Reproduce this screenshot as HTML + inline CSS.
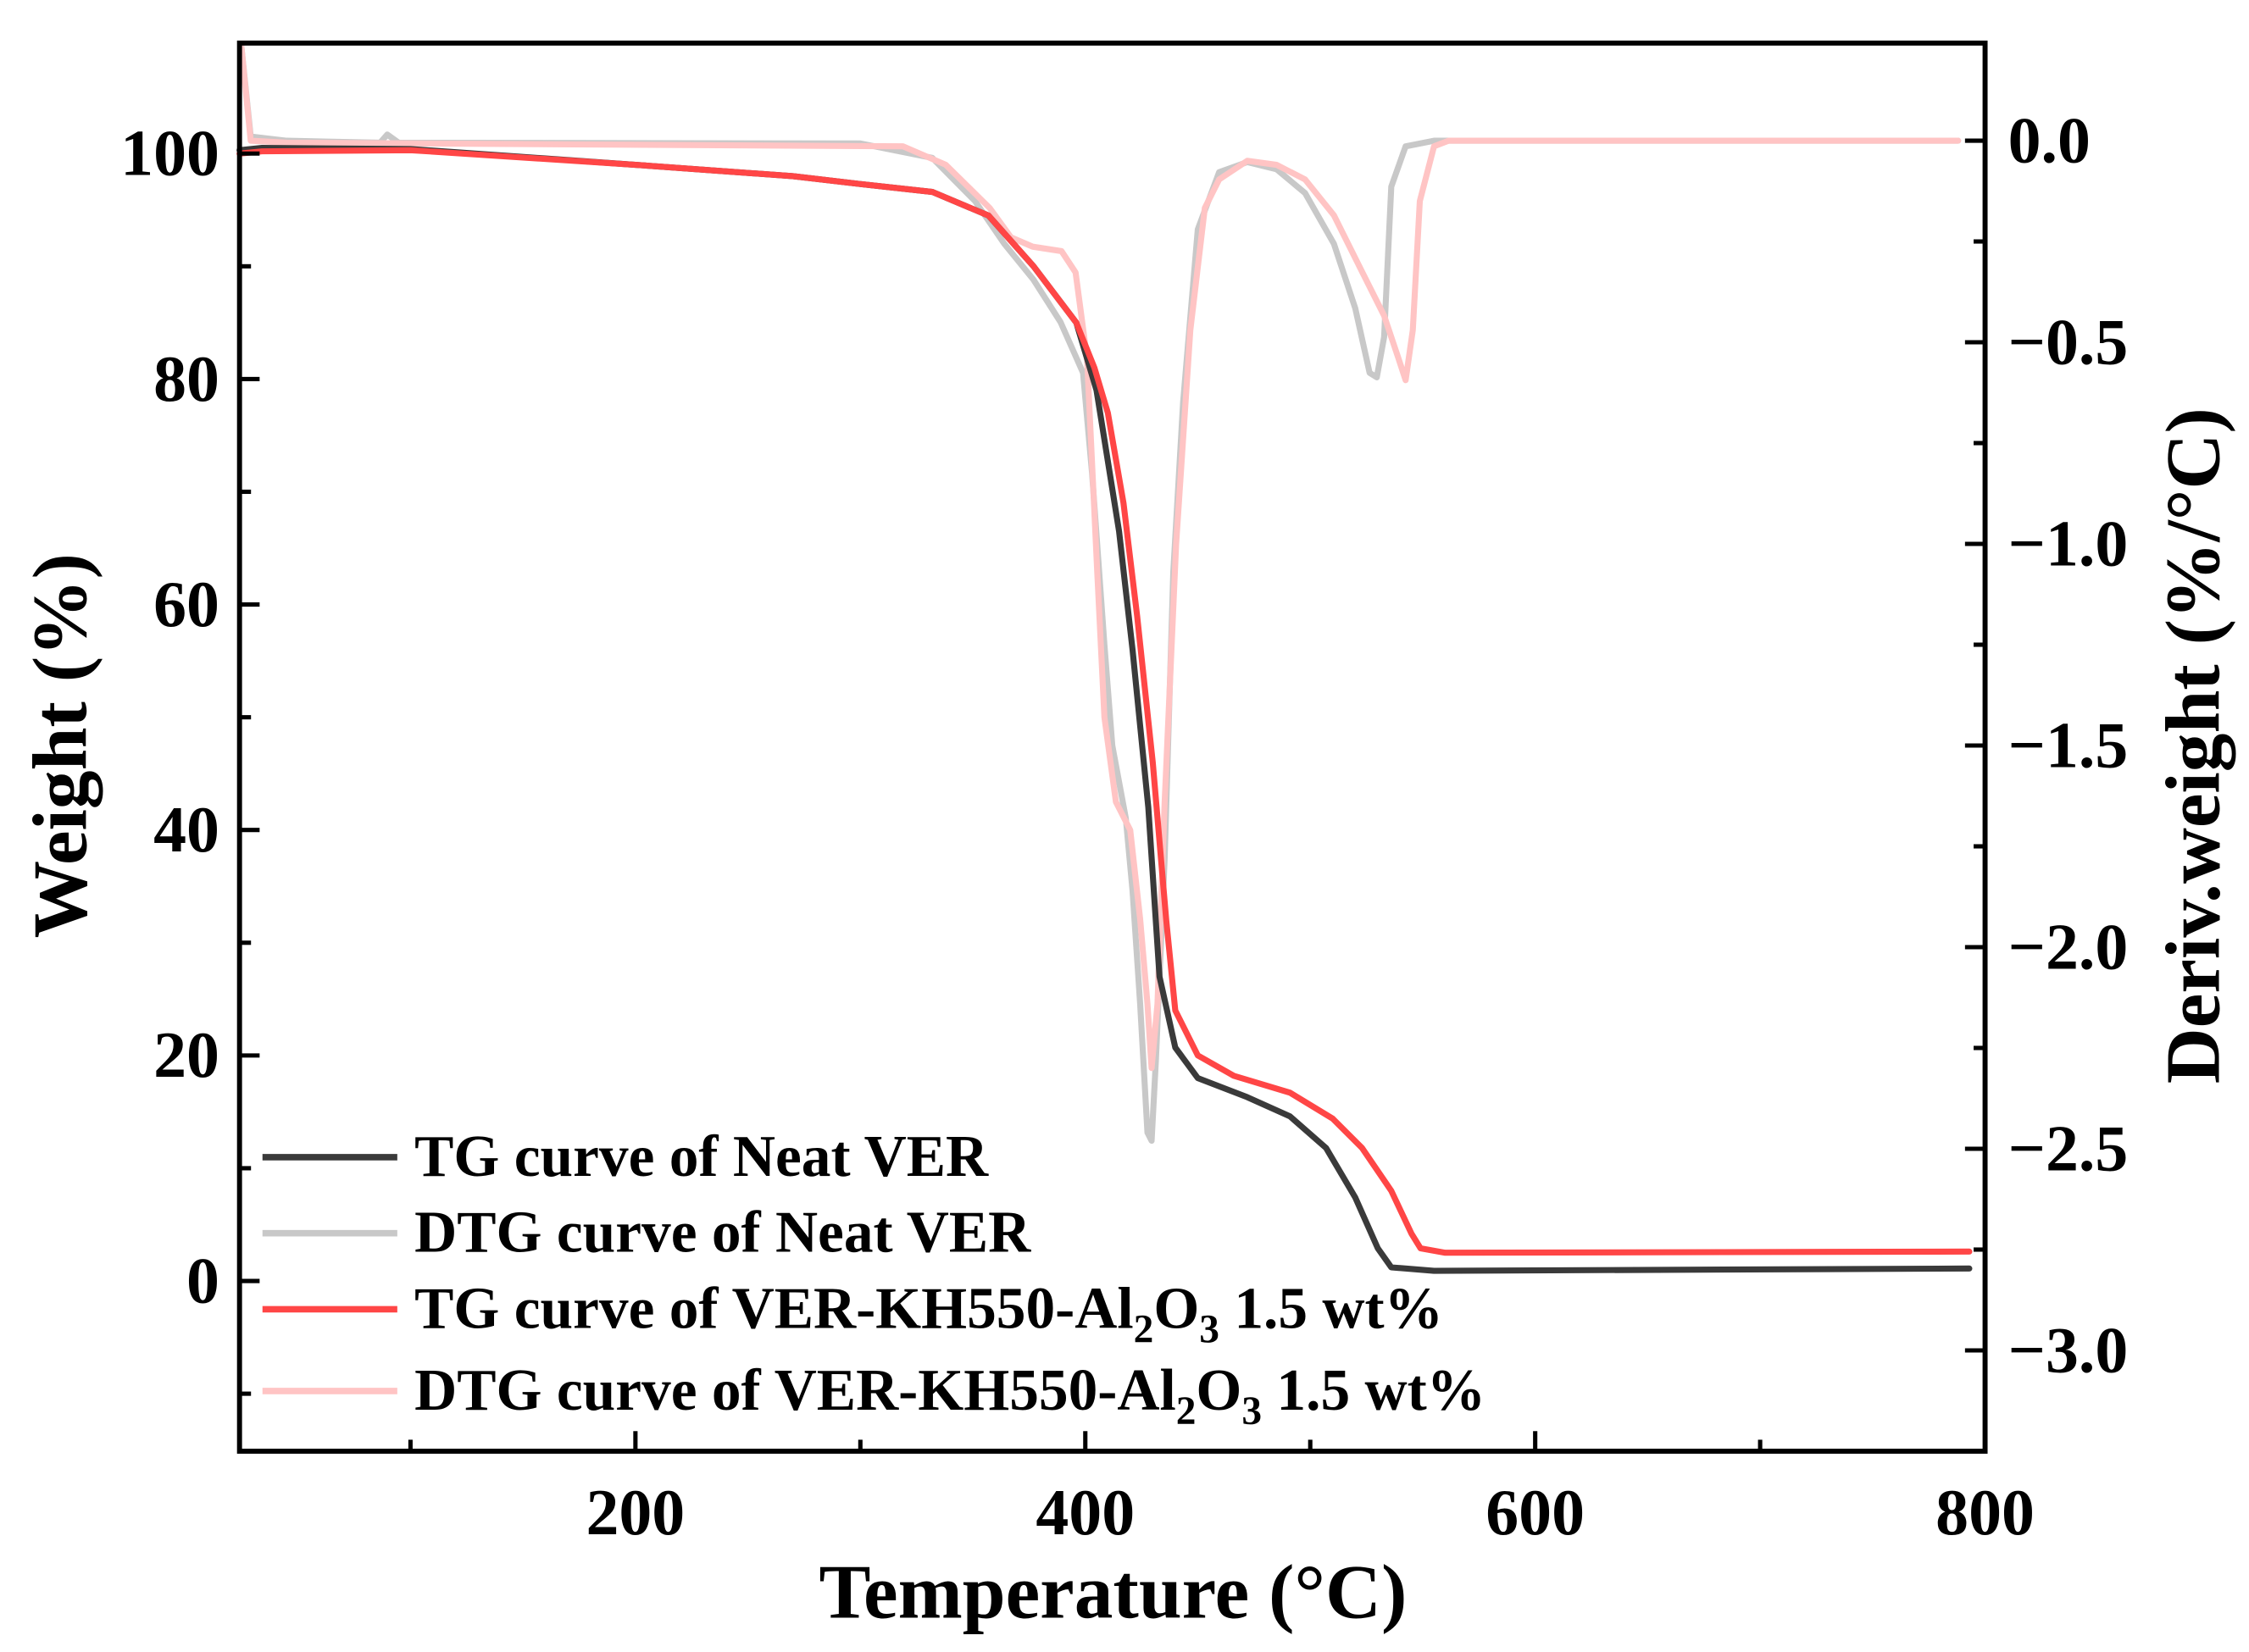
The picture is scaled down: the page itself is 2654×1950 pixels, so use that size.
<!DOCTYPE html>
<html><head><meta charset="utf-8"><style>
html,body{margin:0;padding:0;background:#fff;}
svg{display:block;}
text{font-family:"Liberation Serif",serif;font-weight:bold;fill:#000;}
</style></head><body>
<svg id="chart" width="2654" height="1950" viewBox="0 0 1568 1152" xmlns="http://www.w3.org/2000/svg">
<g id="plot"></g>
</svg>
<script>
const xTicks=[200,400,600,800];
const xMinor=[100,300,500,700];
const yTicks=[0,20,40,60,80,100];
const rTicks=[0.0,-0.5,-1.0,-1.5,-2.0,-2.5,-3.0];
const rTickLabels=["0.0","\u22120.5","\u22121.0","\u22121.5","\u22122.0","\u22122.5","\u22123.0"];

const tgNeatT=[24,34,100,200,270,300,332,357,377,396,405,415,421,428,433,440,450,472,491,507,520,530,536,555,793];
const tgNeatW=[100.3,100.5,100.4,99.0,98.0,97.3,96.6,94.5,90,85,79,66.5,56,42,27,20.7,18,16.3,14.6,11.8,7.4,2.9,1.2,0.9,1.1];
const tgKhT=[24,34,100,200,270,300,332,357,377,396,404,410,417,423,430,436,440,450,466,491,510,523,536,545,549,560,793];
const tgKhW=[100.0,100.2,100.3,99.0,98.0,97.3,96.6,94.5,90,85,81,77,69,59,46,32,24,20,18.2,16.7,14.4,11.8,8,4.2,2.9,2.5,2.6];
const dtgNeatT=[24.7,29,45,86.5,89.7,94.8,300,332,351,364,377,389,399,403,408.5,412,418,421,424.4,427.6,429.5,431.4,435.3,439.1,443.5,450,459.5,472,485,497.7,510.5,520,526.4,529.6,532.8,536,542.4,555,788];
const dtgNeatV=[0.24,0.01,0.0,-0.005,0.015,-0.005,-0.007,-0.043,-0.15,-0.256,-0.345,-0.45,-0.576,-0.825,-1.25,-1.5,-1.68,-1.86,-2.14,-2.46,-2.48,-2.28,-1.78,-1.07,-0.647,-0.22,-0.078,-0.053,-0.071,-0.13,-0.256,-0.416,-0.576,-0.587,-0.487,-0.114,-0.014,0.0,0.0];
const dtgKhT=[24.7,29,45,100,319,338,357.5,367,376.6,389.4,395.7,400.8,405.3,408.5,413.6,420,424.4,427.6,429.5,432.1,435.3,440.4,446.7,453.1,459.5,472,485,497.7,510.5,523.2,532.8,539.2,542.4,545.6,548.7,555,561.5,788];
const dtgKhV=[0.24,0.0,-0.005,-0.007,-0.014,-0.06,-0.167,-0.24,-0.263,-0.274,-0.327,-0.54,-1.07,-1.43,-1.64,-1.71,-1.93,-2.14,-2.3,-2.14,-1.64,-1.0,-0.47,-0.167,-0.096,-0.05,-0.06,-0.096,-0.185,-0.327,-0.434,-0.54,-0.594,-0.47,-0.15,-0.014,0.0,0.0];

const L=167,R=1384,T=30,B=1012;
const xMin=24,xMax=800;
const X=v=>L+(v-xMin)/(xMax-xMin)*(R-L);
const yMin=-15.1,yMax=109.8;
const Y=v=>B-(v-yMin)/(yMax-yMin)*(B-T);
const rMin=-3.25,rMax=0.242;
const YR=v=>B-(v-rMin)/(rMax-rMin)*(B-T);
const NS="http://www.w3.org/2000/svg";
const g=document.getElementById('plot');
function el(tag,attrs,txt){const e=document.createElementNS(NS,tag);for(const k in attrs)e.setAttribute(k,attrs[k]);if(txt!==undefined)e.textContent=txt;g.appendChild(e);return e;}

function series(xs,ys,fy,color,name){
  const d=xs.map((x,i)=>(i?'L':'M')+X(x).toFixed(1)+','+fy(ys[i]).toFixed(1)).join(' ');
  const p=el('path',{d:d,fill:'none',stroke:color,'stroke-width':4.2,'stroke-linejoin':'round','stroke-linecap':'round'});
  
  
}

series(dtgNeatT,dtgNeatV,YR,'#c8c8c8','dtg-neat-line');
series(dtgKhT,dtgKhV,YR,'#ffc4c4','dtg-kh550-line');
series(tgNeatT,tgNeatW,Y,'#3a3a3a','tg-neat-line');
series(tgKhT,tgKhW,Y,'#ff4646','tg-kh550-line');

const fr=el('rect',{x:L,y:T,width:R-L,height:B-T,fill:'none',stroke:'#000','stroke-width':3.5});



xTicks.forEach(v=>{
  el('line',{x1:X(v),x2:X(v),y1:B,y2:B-14,stroke:'#000','stroke-width':3});
  const t=el('text',{x:X(v),y:1070,'text-anchor':'middle','font-size':46},String(v));
  
  
});
xMinor.forEach(v=>el('line',{x1:X(v),x2:X(v),y1:B,y2:B-8,stroke:'#000','stroke-width':3}));
for(let v=-10;v<=100;v+=10){const maj=v%20===0;el('line',{x1:L,x2:L+(maj?14:8),y1:Y(v),y2:Y(v),stroke:'#000','stroke-width':3});}
yTicks.forEach(v=>{
  const t=el('text',{x:153,y:Y(v)+15,'text-anchor':'end','font-size':46},String(v));
  
  
});
for(let v=0;v>=-3.25;v-=0.25){const maj=Math.abs(v*2-Math.round(v*2))<1e-6;el('line',{x1:R,x2:R-(maj?14:8),y1:YR(v),y2:YR(v),stroke:'#000','stroke-width':3});}
rTicks.forEach((v,i)=>{
  const t=el('text',{x:1400,y:YR(v)+15,'font-size':46},rTickLabels[i]);
  
  
});
let t=el('text',{x:776,y:1128,'text-anchor':'middle','font-size':54},'Temperature (\u00b0C)');


t=el('text',{x:0,y:0,'text-anchor':'middle','font-size':54,transform:'translate(60,520) rotate(-90)'},'Weight (%)');


t=el('text',{x:0,y:0,'text-anchor':'middle','font-size':54,transform:'translate(1547,520) rotate(-90)'},'Deriv.weight (%/\u00b0C)');



const leg=[['#3a3a3a','TG curve of Neat VER',807,false],['#c8c8c8','DTG curve of Neat VER',860,false],['#ff4646','TG curve of VER-KH550-Al2O3 1.5 wt%',913,true],['#ffc4c4','DTG curve of VER-KH550-Al2O3 1.5 wt%',970,true]];
leg.forEach(([c,label,y,sub],i)=>{
  const ln=el('line',{x1:183,x2:277,y1:y,y2:y,stroke:c,'stroke-width':4.5});
  
  
  const tx=el('text',{x:289,y:y+13,'font-size':41});
  
  
  if(!sub){tx.textContent=label;}
  else{
    const pre=label.startsWith('TG')?'TG curve of VER-KH550-Al':'DTG curve of VER-KH550-Al';
    const parts=[[pre,0],['2',1],['O',0],['3',1],[' 1.5 wt%',0]];
    parts.forEach(([s,isSub])=>{const ts=document.createElementNS(NS,'tspan');ts.textContent=s;
      if(isSub){ts.setAttribute('font-size','28');ts.setAttribute('dy','10');}
      else if(s!==pre){ts.setAttribute('dy','-10');}
      tx.appendChild(ts);});
  }
});
</script>
</body></html>
